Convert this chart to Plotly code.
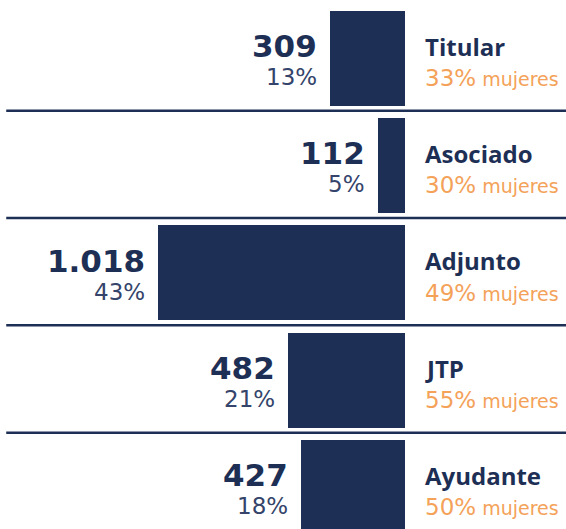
import plotly.graph_objects as go

# Docentes por cargo
cargos = ["Titular", "Asociado", "Adjunto", "JTP", "Ayudante"]
docentes = [309, 112, 1018, 482, 427]
pct_mujeres = [33, 30, 49, 55, 50]

NAVY = "#1e2f55"
NAVY_SOFT = "#34446a"
ORANGE = "#f4a259"
FONT = "DejaVu Sans"
LABEL_FONT = "Open Sans"

total = sum(docentes)
pct_total = [round(v * 100 / total) for v in docentes]


def fmt_miles(n):
    return f"{n:,}".replace(",", ".")


rows = list(range(len(cargos)))

fig = go.Figure()
fig.add_trace(go.Bar(
    x=[-v for v in docentes],
    y=rows,
    orientation="h",
    width=0.885,
    marker=dict(color=NAVY, line=dict(width=0)),
    hoverinfo="skip",
))

annotations = []
for i, (cargo, v, p, m) in enumerate(zip(cargos, docentes, pct_total, pct_mujeres)):
    annotations.append(dict(
        x=-v, y=i, xref="x", yref="y", xanchor="right", yanchor="middle",
        xshift=-11, yshift=12, showarrow=False,
        text=f"<b>{fmt_miles(v)}</b>",
        font=dict(family=FONT, size=31, color=NAVY),
    ))
    annotations.append(dict(
        x=-v, y=i, xref="x", yref="y", xanchor="right", yanchor="middle",
        xshift=-11, yshift=-19, showarrow=False,
        text=f"{p}%",
        font=dict(family=FONT, size=23, color=NAVY_SOFT),
    ))
    annotations.append(dict(
        x=0, y=i, xref="x", yref="y", xanchor="left", yanchor="middle",
        xshift=18, yshift=12, showarrow=False,
        text=f"<b>{cargo}</b>",
        font=dict(family=LABEL_FONT, size=24, color=NAVY),
    ))
    annotations.append(dict(
        x=0, y=i, xref="x", yref="y", xanchor="left", yanchor="middle",
        xshift=18, yshift=-20, showarrow=False,
        text=f"{m}%<span style='font-size:19px'> mujeres</span>",
        font=dict(family=FONT, size=23, color=ORANGE),
    ))

# Separadores entre filas
shapes = []
for i in rows[:-1]:
    shapes.append(dict(
        type="line", xref="paper", yref="y",
        x0=0.011, x1=1, y0=i + 0.49, y1=i + 0.49,
        line=dict(color=NAVY, width=2.5),
    ))

fig.update_layout(
    width=566, height=529,
    margin=dict(l=0, r=0, t=0, b=0),
    paper_bgcolor="white", plot_bgcolor="white",
    showlegend=False,
    bargap=0,
    xaxis=dict(range=[-1669, 663.6], visible=False, fixedrange=True),
    yaxis=dict(range=[4.388, -0.542], visible=False, fixedrange=True),
    annotations=annotations,
    shapes=shapes,
)

fig.write_html("out.html")
